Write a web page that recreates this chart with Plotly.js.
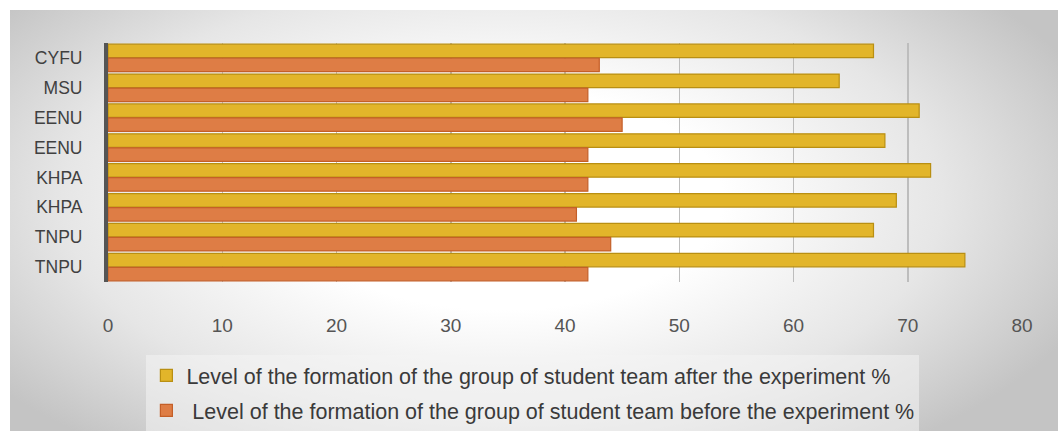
<!DOCTYPE html>
<html>
<head>
<meta charset="utf-8">
<script src="https://cdn.plot.ly/plotly-3.0.1.min.js"></script>
<style>
  html, body { margin:0; padding:0; background:#ffffff; }
  #wrap { position:relative; width:1058px; height:431px; overflow:hidden; background:#ffffff; }
  #bg { position:absolute; left:10px; top:10px; width:1048px; height:421px;
        background: radial-gradient(ellipse 60% 75% at 47% 45%, #ffffff 35%, #e6e6e6 70%, #c4c4c4 100%); }
  #chart { position:absolute; left:0; top:0; width:1058px; height:431px; }
</style>
</head>
<body>
<div id="wrap">
  <div id="bg"></div>
  <div id="chart"></div>
</div>
<script>
// Categories listed top to bottom
var categories = ["CYFU", "MSU", "EENU", "EENU", "KHPA", "KHPA", "TNPU", "TNPU"];
var positions = [0, 1, 2, 3, 4, 5, 6, 7];
var afterValues = [67, 64, 71, 68, 72, 69, 67, 75];
var beforeValues = [43, 42, 45, 42, 42, 41, 44, 42];
var afterName = "Level of the formation of the group of student team after the experiment %";
var beforeName = " Level of the formation of the group of student team before the experiment %";
var xTicks = [0, 10, 20, 30, 40, 50, 60, 70, 80];

var sans = "'Liberation Sans', Arial, sans-serif";

var traces = [
  {
    type: "bar", orientation: "h",
    x: afterValues, y: positions,
    name: afterName, legendgroup: "a",
    marker: { color: "#E2B52A", line: { color: "#B98F12", width: 1.2 } },
    hoverinfo: "x"
  },
  {
    type: "bar", orientation: "h",
    x: beforeValues, y: positions,
    name: beforeName, legendgroup: "b",
    marker: { color: "#DE7D45", line: { color: "#C45F28", width: 1.2 } },
    hoverinfo: "x"
  }
];

var layout = {
  width: 1058, height: 431,
  paper_bgcolor: "rgba(0,0,0,0)",
  plot_bgcolor: "rgba(0,0,0,0)",
  margin: { l: 108, r: 36, t: 43, b: 149, autoexpand: false },
  barmode: "group",
  bargap: 0.06,
  bargroupgap: 0.04,
  showlegend: true,
  legend: {
    x: 0.042, xanchor: "left",
    y: -0.305, yanchor: "top",
    orientation: "v",
    traceorder: "grouped",
    tracegroupgap: 4,
    bgcolor: "rgba(244,244,244,0.55)",
    font: { family: sans, size: 21.5, color: "#3a3a3a" }
  },
  xaxis: {
    range: [0, 80],
    tickvals: xTicks,
    ticktext: xTicks.map(String),
    showgrid: true,
    gridcolor: "#bdbdbd",
    gridwidth: 1.5,
    zeroline: false,
    showline: false,
    ticks: "",
    ticklabelstandoff: 30,
    tickfont: { family: sans, size: 19, color: "#555555" },
    fixedrange: true
  },
  yaxis: {
    range: [7.5, -0.5],
    tickvals: positions,
    ticktext: categories,
    showgrid: false,
    zeroline: false,
    showline: true,
    linecolor: "#555555",
    linewidth: 4,
    ticks: "",
    ticklabelstandoff: 18,
    tickfont: { family: sans, size: 17.5, color: "#404040" },
    fixedrange: true
  }
};

Plotly.newPlot("chart", traces, layout, { displayModeBar: false, staticPlot: true });
</script>
</body>
</html>
